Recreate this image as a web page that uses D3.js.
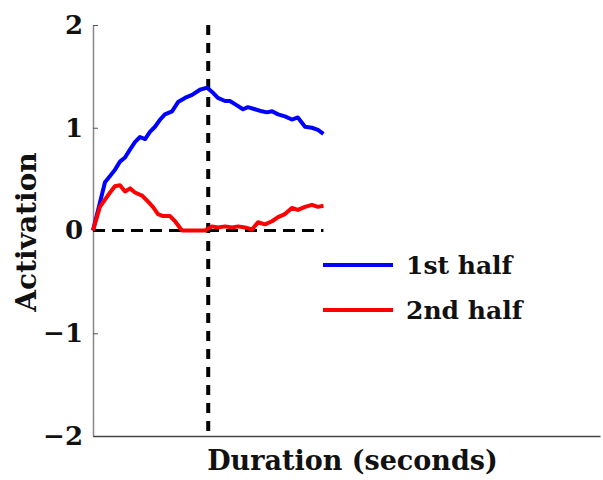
<!DOCTYPE html>
<html>
<head>
<meta charset="utf-8">
<script src="https://cdn.jsdelivr.net/npm/d3@7"></script>
<style>
  body { margin: 0; background: #fff; }
  svg { display: block; }
  text { font-family: "DejaVu Serif", serif; font-weight: bold; fill: #111; }
</style>
</head>
<body>
<svg></svg>
<script>
const width = 603;
const height = 480;
const margin = { top: 25, right: 3, bottom: 44, left: 93 };

// time (s) and activation values
const firstT = [0, 0.30, 0.52, 0.74, 0.95, 1.17, 1.39, 1.61, 1.82, 2.04, 2.26, 2.47, 2.69, 2.91, 3.12, 3.43, 3.69, 3.99, 4.30, 4.64, 4.95, 5.21, 5.42, 5.73, 5.94, 6.16, 6.51, 6.72, 7.03, 7.33, 7.55, 7.77, 8.03, 8.33, 8.63, 8.89, 9.20, 9.50, 9.76, 10.0];
const firstV = [0, 0.27, 0.47, 0.53, 0.59, 0.67, 0.71, 0.79, 0.86, 0.91, 0.89, 0.96, 1.01, 1.08, 1.13, 1.16, 1.25, 1.29, 1.32, 1.37, 1.39, 1.34, 1.29, 1.26, 1.26, 1.23, 1.18, 1.20, 1.18, 1.16, 1.15, 1.16, 1.13, 1.11, 1.08, 1.10, 1.01, 1.00, 0.98, 0.94];
const secondT = [0, 0.30, 0.52, 0.74, 0.95, 1.17, 1.39, 1.61, 1.82, 2.13, 2.39, 2.60, 2.82, 3.04, 3.34, 3.56, 3.86, 4.86, 5.16, 5.42, 5.73, 6.03, 6.29, 6.59, 6.90, 7.16, 7.46, 7.77, 8.03, 8.33, 8.63, 8.89, 9.20, 9.50, 9.76, 10.0];
const secondV = [0, 0.23, 0.30, 0.37, 0.43, 0.44, 0.38, 0.41, 0.37, 0.34, 0.28, 0.23, 0.16, 0.14, 0.14, 0.09, 0.00, 0.00, 0.04, 0.03, 0.04, 0.03, 0.04, 0.03, 0.01, 0.08, 0.06, 0.09, 0.13, 0.16, 0.22, 0.20, 0.23, 0.25, 0.23, 0.24];

const yTicks = [-2, -1, 0, 1, 2];
const seriesNames = ['1st half', '2nd half'];
const seriesColors = ['#0000ff', '#ff0000'];
const xMax = 22;
const tMid = 5;
const tEnd = 10;

const svg = d3.select('svg').attr('width', width).attr('height', height);

const x = d3.scaleLinear().domain([0, xMax]).range([margin.left, width - margin.right]);
const y = d3.scaleLinear().domain([-2, 2]).range([height - margin.bottom, margin.top]);

// axes
svg.append('g')
    .attr('transform', `translate(${margin.left},0)`)
    .call(d3.axisLeft(y).tickValues(yTicks).tickFormat(d3.format('d')).tickSizeInner(-5).tickSizeOuter(0).tickPadding(10))
    .call(g => g.select('.domain').attr('stroke', '#888').attr('stroke-width', 1.5))
    .call(g => g.selectAll('.tick line').attr('stroke', '#555'))
    .call(g => g.selectAll('.tick text')
        .attr('font-family', '"DejaVu Serif", serif')
        .attr('font-weight', 'bold')
        .attr('font-size', 26)
        .attr('fill', '#111'));

svg.append('g')
    .attr('transform', `translate(0,${y(-2)})`)
    .call(d3.axisBottom(x).tickValues([]).tickSizeOuter(0))
    .call(g => g.select('.domain').attr('stroke', '#444').attr('stroke-width', 1.5));

// reference lines
svg.append('line')
    .attr('x1', x(0)).attr('x2', x(tEnd))
    .attr('y1', y(0)).attr('y2', y(0))
    .attr('stroke', '#000').attr('stroke-width', 3)
    .attr('stroke-dasharray', '12,7');

svg.append('line')
    .attr('x1', x(tMid)).attr('x2', x(tMid))
    .attr('y1', y(2)).attr('y2', y(-2))
    .attr('stroke', '#000').attr('stroke-width', 4)
    .attr('stroke-dasharray', '10,8');

// curves
const line = d3.line().x(d => x(d[0])).y(d => y(d[1]));
const series = [
    d3.zip(firstT, firstV),
    d3.zip(secondT, secondV)
];

svg.selectAll('path.curve')
    .data(series)
    .enter()
    .append('path')
    .attr('class', 'curve')
    .attr('d', line)
    .attr('fill', 'none')
    .attr('stroke', (d, i) => seriesColors[i])
    .attr('stroke-width', 4)
    .attr('stroke-linejoin', 'round');

// legend
const legend = svg.append('g').attr('transform', 'translate(323,265)');
seriesNames.forEach((name, i) => {
    const row = legend.append('g').attr('transform', `translate(0,${i * 45})`);
    row.append('line')
        .attr('x1', 0).attr('x2', 70)
        .attr('stroke', seriesColors[i]).attr('stroke-width', 4);
    row.append('text')
        .attr('x', 83).attr('y', 9)
        .attr('font-size', 25)
        .text(name);
});

// axis titles
svg.append('text')
    .attr('x', (205 + 500) / 2)
    .attr('y', 470)
    .attr('text-anchor', 'middle')
    .attr('font-size', 27)
    .text('Duration (seconds)');

svg.append('text')
    .attr('transform', `translate(36,${232}) rotate(-90)`)
    .attr('text-anchor', 'middle')
    .attr('font-size', 28)
    .text('Activation');
</script>
</body>
</html>
